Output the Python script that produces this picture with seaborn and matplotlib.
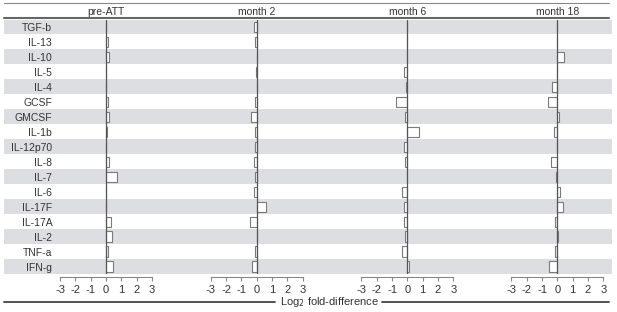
import matplotlib
matplotlib.use("Agg")
import matplotlib.pyplot as plt
from matplotlib.lines import Line2D
import seaborn as sns
import pandas as pd

sns.set_style("white")
plt.rcParams['font.family'] = ['Liberation Sans', 'DejaVu Sans']
plt.rcParams['axes.unicode_minus'] = False

cytokines = ["TGF-b", "IL-13", "IL-10", "IL-5", "IL-4", "GCSF", "GMCSF", "IL-1b",
             "IL-12p70", "IL-8", "IL-7", "IL-6", "IL-17F", "IL-17A", "IL-2", "TNF-a", "IFN-g"]
timepoints = ["pre-ATT", "month 2", "month 6", "month 18"]

pre_att = [0.02, 0.15, 0.18, 0.0, 0.0, 0.1, 0.2, 0.08, 0.02, 0.17, 0.7, 0.0, 0.0, 0.3, 0.4, 0.15, 0.43]
month_2 = [-0.15, -0.1, 0.05, -0.02, 0.0, -0.08, -0.35, -0.12, -0.08, -0.15, -0.12, -0.15, 0.6, -0.45, 0.02, -0.12, -0.3]
month_6 = [0.0, -0.03, -0.03, -0.2, -0.1, -0.76, -0.17, 0.74, -0.2, -0.17, 0.0, -0.35, -0.2, -0.2, -0.15, -0.37, 0.12]
month_18 = [0.0, -0.05, 0.45, -0.05, -0.37, -0.6, 0.12, -0.24, -0.05, -0.39, -0.1, 0.17, 0.4, -0.15, 0.07, -0.12, -0.57]

series = [pre_att, month_2, month_6, month_18]
ticks = [-3, -2, -1, 0, 1, 2, 3]

df = pd.DataFrame({
    "cytokine": cytokines * 4,
    "timepoint": [t for t in timepoints for _ in cytokines],
    "value": [v for s in series for v in s],
})

W, H = 617, 312
fig = plt.figure(figsize=(W / 100, H / 100), dpi=100)

top_px, bot_px = 19.5, 274.0
ax_bottom = (H - bot_px) / H
ax_height = (bot_px - top_px) / H
n = len(cytokines)

# background bands
band_left, band_right = 3.5, 612.0
ax_bg = fig.add_axes([band_left / W, ax_bottom, (band_right - band_left) / W, ax_height])
ax_bg.set_ylim(n - 0.5, -0.5)
ax_bg.set_xlim(0, 1)
for i in range(0, n, 2):
    ax_bg.axhspan(i - 0.5, i + 0.5, color="#dddee1", lw=0)
ax_bg.axis("off")

# panels
scale = 15.3  # px per unit
zeros = [106.0, 256.7, 407.3, 557.3]
edges = [57.0, 207.0, 357.0, 507.0, 612.0]
text_col = "#333333"
for k, tp in enumerate(timepoints):
    l, r = edges[k], edges[k + 1]
    ax = fig.add_axes([l / W, ax_bottom, (r - l) / W, ax_height])
    ax.patch.set_alpha(0)
    sub = df[df["timepoint"] == tp]
    sns.barplot(data=sub, x="value", y="cytokine", orient="h", ax=ax,
                color="white", edgecolor="#7a7a7a", linewidth=0.8, width=0.68,
                saturation=1, order=cytokines)
    ax.set_xlim((l - zeros[k]) / scale, (r - zeros[k]) / scale)
    ax.set_ylim(n - 0.5, -0.5)
    ax.axvline(0, color="#555555", lw=0.9, zorder=5)
    for s in ["top", "right", "left"]:
        ax.spines[s].set_visible(False)
    ax.spines["bottom"].set_bounds(-3, 3)
    ax.spines["bottom"].set_position(("outward", 2.5))
    ax.spines["bottom"].set_color("#888888")
    ax.spines["bottom"].set_linewidth(0.8)
    ax.set_xticks(ticks)
    ax.set_xticklabels([str(t) for t in ticks])
    ax.tick_params(axis="x", direction="out", length=3, width=0.8, color="#888888",
                   labelsize=8, labelcolor=text_col, pad=2.5, bottom=True)
    ax.set_xlabel("")
    ax.set_ylabel("")
    if k == 0:
        ax.tick_params(axis="y", length=0, pad=3.5, labelsize=7.5, labelcolor=text_col, left=True)
    else:
        ax.set_yticks([])
    fig.text(zeros[k] / W, 1 - 12 / H, tp, ha="center", va="center", fontsize=7.5, color=text_col)

# rules
def hline(y_px, x0, x1, lw, color):
    fig.add_artist(Line2D([x0 / W, x1 / W], [1 - y_px / H, 1 - y_px / H],
                          transform=fig.transFigure, lw=lw, color=color))

hline(3.3, 3.5, 609, 0.8, "#888888")
hline(18.0, 3.5, 609, 1.5, "#666666")
hline(302.0, 3.5, 275, 1.3, "#444444")
hline(302.0, 382, 609, 1.3, "#444444")

fig.text(330 / W, 1 - 302 / H, "Log$_2$ fold-difference", ha="center", va="center",
         fontsize=8, color=text_col)

fig.savefig("out.png", dpi=100)
